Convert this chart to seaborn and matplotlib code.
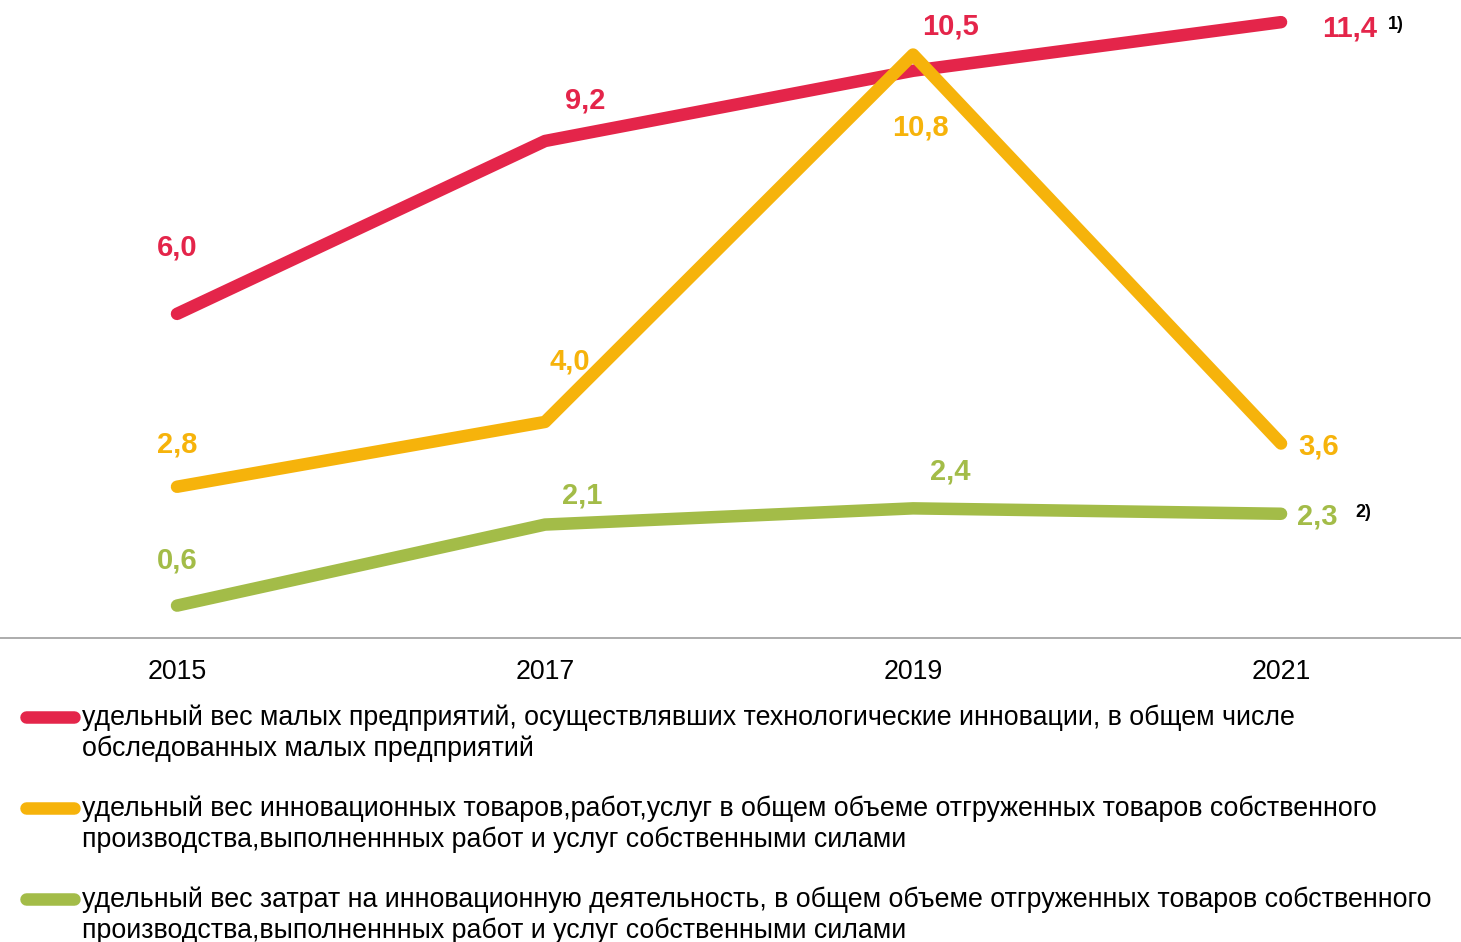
import numpy as np
import pandas as pd
import matplotlib.pyplot as plt
import seaborn as sns
from matplotlib.lines import Line2D

years = ["2015", "2017", "2019", "2021"]
small_firms = [6.0, 9.2, 10.5, 11.4]
innov_goods = [2.8, 4.0, 10.8, 3.6]
innov_costs = [0.6, 2.1, 2.4, 2.3]

series_names = [
    ["удельный вес малых предприятий, осуществлявших технологические инновации, в общем числе",
     "обследованных малых предприятий"],
    ["удельный вес инновационных товаров,работ,услуг в общем объеме отгруженных товаров собственного",
     "производства,выполненнных работ и услуг собственными силами"],
    ["удельный вес затрат на инновационную деятельность, в общем объеме отгруженных товаров собственного",
     "производства,выполненнных работ и услуг собственными силами"],
]
colors = ["#E4254A", "#F6B30B", "#A3BC48"]

# label offsets in pixels relative to each point
offsets = [
    [(0, 66), (40, 41), (37, 44), (69, -6)],
    [(0, 42), (25, 60), (7, -73), (38, -3)],
    [(0, 45), (37, 29), (37, 37), (36, -3)],
]
notes = {0: "1)", 2: "2)"}

df = pd.DataFrame({
    "year": years * 3,
    "value": small_firms + innov_goods + innov_costs,
    "series": np.repeat([0, 1, 2], len(years)),
})

sns.set_style("white")
plt.rcParams["font.family"] = ["Liberation Sans", "DejaVu Sans"]

W, H = 1461, 942
fig = plt.figure(figsize=(W / 100, H / 100), dpi=100)
ax = fig.add_axes([0, 0.3227, 1, 0.6773])

sns.lineplot(data=df, x="year", y="value", hue="series", palette=colors,
             linewidth=9, sort=False, legend=False, ax=ax,
             solid_capstyle="round", solid_joinstyle="round")

vals = [small_firms, innov_goods, innov_costs]
for s, (v, c) in enumerate(zip(vals, colors)):
    for i, y in enumerate(v):
        ax.annotate(f"{y:.1f}".replace(".", ","), (i, y), xytext=offsets[s][i],
                    textcoords="offset pixels", ha="center", va="center",
                    color=c, fontsize=21, fontweight="bold")
    if s in notes:
        dx, dy = offsets[s][-1]
        ax.annotate(notes[s], (len(v) - 1, v[-1]), xytext=(dx + 46, dy + 4),
                    textcoords="offset pixels", ha="center", va="center",
                    color="black", fontsize=13, fontweight="bold")

ax.set_xlim(-0.481, 3.489)
ax.set_ylim(0, 11.81)
ax.set_yticks([])
ax.set_xlabel("")
ax.set_ylabel("")
for side in ["top", "left", "right"]:
    ax.spines[side].set_visible(False)
ax.spines["bottom"].set_color("#A6A6A6")
ax.spines["bottom"].set_linewidth(1.3)
ax.set_xticks([0.5, 1.5, 2.5], minor=True)
ax.tick_params(axis="x", which="major", length=0, pad=15, labelsize=19.3, labelcolor="black")
ax.tick_params(axis="x", which="minor", length=6, width=1, color="#A6A6A6", direction="out")

# legend: handle next to the first line of each two-line label
for k, (lines, c) in enumerate(zip(series_names, colors)):
    base = 725 + 91 * k
    mid = base - 8
    fig.add_artist(Line2D([26 / W, 74 / W], [1 - mid / H, 1 - mid / H], color=c,
                          linewidth=9, solid_capstyle="round", transform=fig.transFigure))
    for j, line in enumerate(lines):
        fig.text(82 / W, 1 - (base + 31 * j) / H, line, fontsize=19.25,
                 color="black", ha="left", va="baseline")

fig.savefig("out.png", dpi=100)
